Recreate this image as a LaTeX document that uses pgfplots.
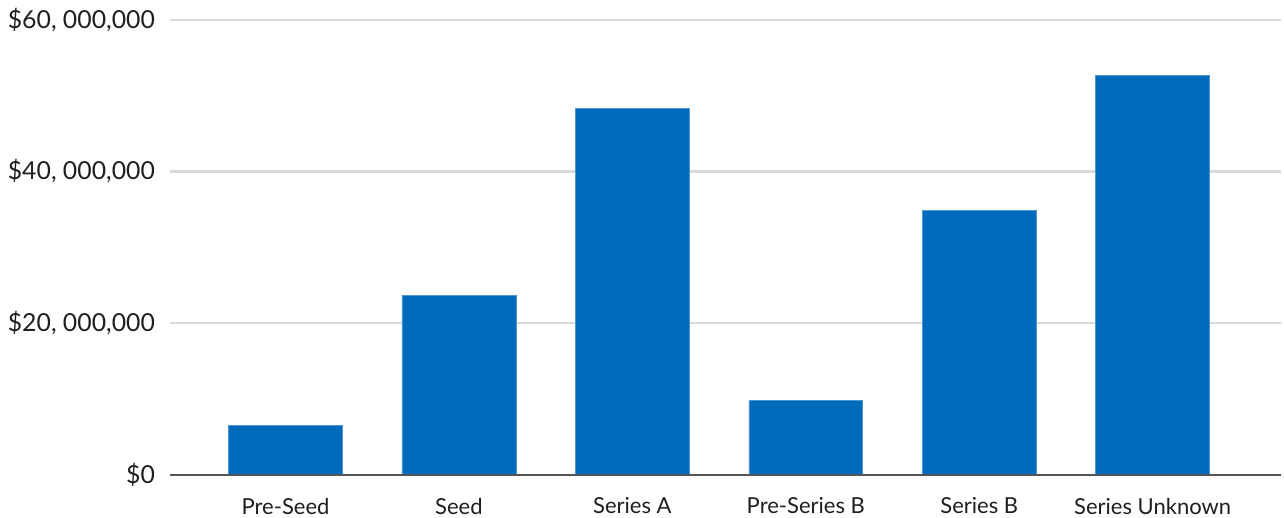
\documentclass[border=0pt]{standalone}
\usepackage{pgfplots}
\pgfplotsset{compat=1.18}
\usepackage{fontspec}
\setmainfont{Lato}
\definecolor{barblue}{HTML}{006BBD}
\definecolor{gridgray}{HTML}{DADADA}
\definecolor{basegray}{HTML}{555555}
\begin{document}
\begin{tikzpicture}
\begin{axis}[
  scale only axis,
  width=555.5pt, height=227.6pt,
  xmin=-0.666, xmax=5.74,
  ymin=0, ymax=60000000,
  scaled y ticks=false,
  axis line style={draw=none},
  xtick={0,1,2,3,4,5},
  xticklabels={Pre-Seed,Seed,Series A,Pre-Series B,Series B,Series Unknown},
  ytick={0,20000000,40000000,60000000},
  yticklabels={{\$0},{\$20, 000,000},{\$40, 000,000},{\$60, 000,000}},
  major tick length=0pt,
  ymajorgrids,
  major grid style={draw=gridgray, line width=1.1pt},
  tick label style={text=black!88},
  yticklabel style={font=\fontsize{12.4}{14}\selectfont, xshift=-4pt},
  xticklabel style={font=\fontsize{11}{12}\selectfont, yshift=-8pt},
  ybar, bar width=0.657,
  clip=false,
]
\addplot[fill=barblue, draw=barblue!70!white, line width=0.3pt]
  coordinates {(0,6500000) (1,23700000) (2,48300000) (3,9800000) (4,34900000) (5,52700000)};
\draw[basegray, line width=1pt] (axis cs:-0.666,0) -- (axis cs:5.74,0);
\end{axis}
\pgfresetboundingbox
\path[use as bounding box] ([xshift=-85pt,yshift=-21.5pt]current axis.south west) rectangle ([xshift=1.5pt,yshift=9.85pt]current axis.north east);
\end{tikzpicture}
\end{document}
